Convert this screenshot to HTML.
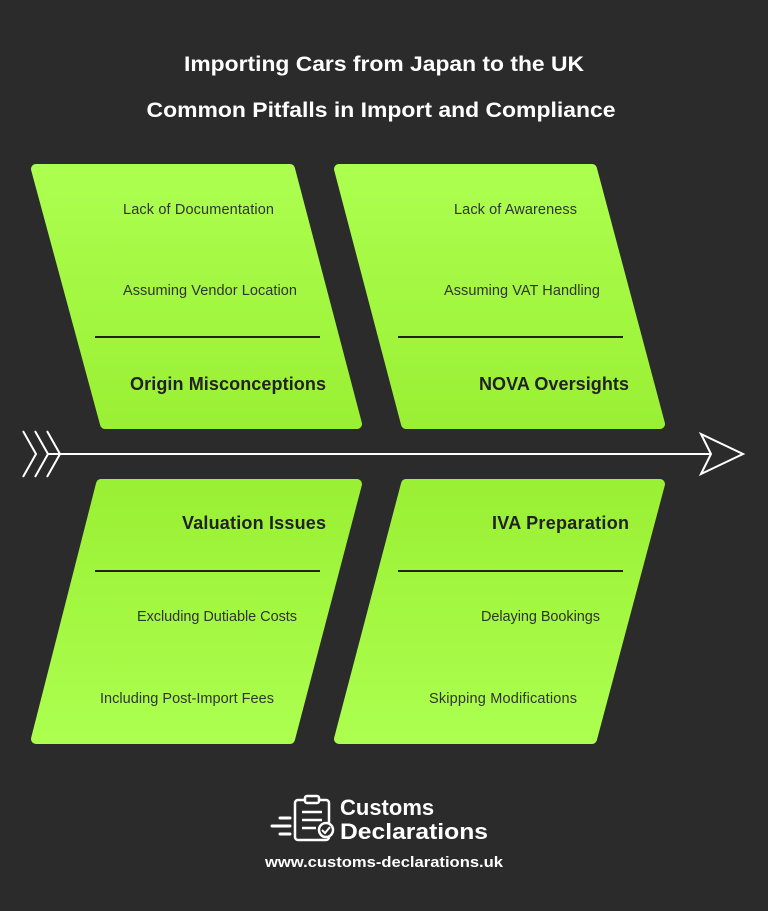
<!DOCTYPE html>
<html><head><meta charset="utf-8"><style>
html,body{margin:0;padding:0;background:#2b2b2b;}
svg{display:block;font-family:"Liberation Sans",Arial,sans-serif;}
</style></head><body>
<svg width="768" height="911" viewBox="0 0 768 911" xmlns="http://www.w3.org/2000/svg">
<defs>
<linearGradient id="gt" x1="0" y1="0" x2="0" y2="1"><stop offset="0" stop-color="#acff4f"/><stop offset="1" stop-color="#9af034"/></linearGradient>
<linearGradient id="gb" x1="0" y1="1" x2="0" y2="0"><stop offset="0" stop-color="#acff4f"/><stop offset="1" stop-color="#9af034"/></linearGradient>
</defs>
<rect width="768" height="911" fill="#2b2b2b"/>
<text x="384" y="71" text-anchor="middle" fill="#fff" font-size="21" font-weight="bold" textLength="400" lengthAdjust="spacingAndGlyphs">Importing Cars from Japan to the UK</text>
<text x="381" y="117" text-anchor="middle" fill="#fff" font-size="21" font-weight="bold" textLength="469" lengthAdjust="spacingAndGlyphs">Common Pitfalls in Import and Compliance</text>

<g stroke-linejoin="round" stroke-width="10">
<polygon points="36,169 290,169 357,424 105,424" fill="url(#gt)" stroke="url(#gt)"/>
<polygon points="339,169 592,169 660,424 406,424" fill="url(#gt)" stroke="url(#gt)"/>
<polygon points="101,484 357,484 290,739 36,739" fill="url(#gb)" stroke="url(#gb)"/>
<polygon points="406,484 660,484 592,739 339,739" fill="url(#gb)" stroke="url(#gb)"/>
</g>

<g fill="#333" font-size="14.5" lengthAdjust="spacingAndGlyphs">
<text x="123" y="214" textLength="151">Lack of Documentation</text>
<text x="123" y="295" textLength="174">Assuming Vendor Location</text>
<text x="454" y="214" textLength="123">Lack of Awareness</text>
<text x="444" y="295" textLength="156">Assuming VAT Handling</text>
<text x="137" y="621" textLength="160">Excluding Dutiable Costs</text>
<text x="100" y="703" textLength="174">Including Post-Import Fees</text>
<text x="481" y="621" textLength="119">Delaying Bookings</text>
<text x="429" y="703" textLength="148">Skipping Modifications</text>
</g>
<g fill="#222" font-size="18" font-weight="bold" lengthAdjust="spacingAndGlyphs">
<text x="130" y="390" textLength="196">Origin Misconceptions</text>
<text x="479" y="390" textLength="150">NOVA Oversights</text>
<text x="182" y="529" textLength="144">Valuation Issues</text>
<text x="492" y="529" textLength="137">IVA Preparation</text>
</g>
<g stroke="#222" stroke-width="2">
<line x1="95" y1="337" x2="320" y2="337"/>
<line x1="398" y1="337" x2="623" y2="337"/>
<line x1="95" y1="571" x2="320" y2="571"/>
<line x1="398" y1="571" x2="623" y2="571"/>
</g>

<g stroke="#fff" stroke-width="2" fill="none">
<line x1="48" y1="454" x2="711" y2="454"/>
<polyline points="23,431 36,454 23,477"/>
<polyline points="35,431 48,454 35,477"/>
<polyline points="47,431 60,454 47,477"/>
<polygon points="701,434 743,454 701,474 711,454" stroke-linejoin="miter"/>
</g>

<g fill="none" stroke="#fff" stroke-width="2.5">
<rect x="295" y="800" width="34" height="40" rx="3"/>
<rect x="305" y="796" width="14" height="7" rx="2" fill="#2b2b2b"/>
<line x1="302" y1="812" x2="322" y2="812"/>
<line x1="302" y1="820" x2="322" y2="820"/>
<line x1="302" y1="828" x2="316" y2="828"/>
</g>
<circle cx="326" cy="830" r="7" fill="#2b2b2b" stroke="#fff" stroke-width="2.5"/>
<polyline points="322,830 325,833 330,827" fill="none" stroke="#fff" stroke-width="2"/>
<g stroke="#fff" stroke-width="3" stroke-linecap="round">
<line x1="280" y1="818" x2="290" y2="818"/>
<line x1="272" y1="826" x2="290" y2="826"/>
<line x1="280" y1="834" x2="290" y2="834"/>
</g>
<text x="340" y="815" fill="#fff" font-size="22" font-weight="bold">Customs</text>
<text x="340" y="839" fill="#fff" font-size="22" font-weight="bold" textLength="148" lengthAdjust="spacingAndGlyphs">Declarations</text>
<text x="384" y="867" text-anchor="middle" fill="#fff" font-size="15" font-weight="bold" textLength="238" lengthAdjust="spacingAndGlyphs">www.customs-declarations.uk</text>
</svg>
</body></html>
